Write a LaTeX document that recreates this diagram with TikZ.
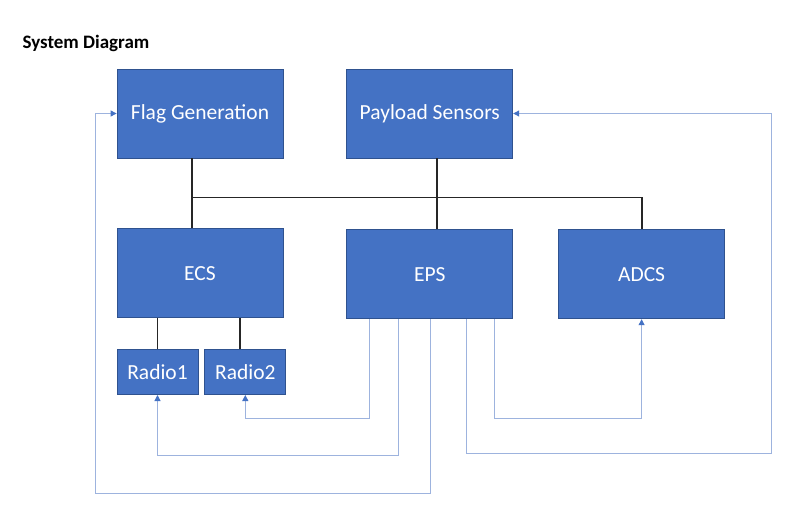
\documentclass[tikz,border=0pt]{standalone}
\usepackage{fontspec}
\setmainfont{Carlito}
\usetikzlibrary{positioning,arrows.meta}
\definecolor{boxfill}{HTML}{4472C4}
\definecolor{boxline}{HTML}{2F528F}
\definecolor{feedline}{HTML}{9DB3DE}
\begin{document}
\begin{tikzpicture}[
  x=1pt, y=1pt,
  block/.style={draw=boxline, fill=boxfill, line width=0.8pt, text=white,
                minimum width=166pt, minimum height=89pt,
                font=\fontsize{21.5}{25}\selectfont},
  radio/.style={block, minimum width=81pt, minimum height=45pt},
  bus/.style={line width=1.8pt, black!85},
  feed/.style={draw=feedline, line width=1pt,
               -{Triangle[length=6pt,width=6pt,fill=boxfill,color=boxfill]}}
]
\useasboundingbox (0,0) rectangle (807,-525);
\node[anchor=base west, font=\bfseries\fontsize{19}{22}\selectfont] (title) at (19,-48) {System Diagram};
\node[block] (flag) at (200,-113.5) {Flag Generation};
\node[block, right=63pt of flag] (payload) {Payload Sensors};
\node[block, below=70pt of flag] (ecs) {ECS};
\node[block, below=71pt of payload] (eps) {EPS};
\node[block, right=45pt of eps] (adcs) {ADCS};
\node[radio, below=31pt of ecs.south west, anchor=north west] (radio1) {Radio1};
\node[radio, right=6pt of radio1] (radio2) {Radio2};
\coordinate (busl) at ([xshift=-8pt,yshift=-39pt]flag.south);
\draw[bus] ([xshift=-8pt]flag.south) -- ([xshift=-8pt]ecs.north);
\draw[bus] ([xshift=7.5pt]payload.south) -- ([xshift=7.5pt]eps.north);
\draw[bus] (busl) -| (adcs.north);
\draw[bus] (radio1.north) -- (radio1.north |- ecs.south);
\draw[bus] ([xshift=-5pt]radio2.north) -- ([xshift=-5pt]radio2.north |- ecs.south);
\draw[feed] ([xshift=23pt]eps.south west) -- ++(0,-99) -| (radio2.south);
\draw[feed] ([xshift=52pt]eps.south west) -- ++(0,-136) -| (radio1.south);
\draw[feed] ([xshift=1pt]eps.south) -- ++(0,-174) -| ([xshift=-21pt]flag.west) -- (flag.west);
\draw[feed] ([xshift=148pt]eps.south west) -- ++(0,-99) -| (adcs.south);
\draw[feed] ([xshift=120pt]eps.south west) -- ++(0,-134) -| ([xshift=258pt]payload.east) -- (payload.east);
\end{tikzpicture}
\end{document}
